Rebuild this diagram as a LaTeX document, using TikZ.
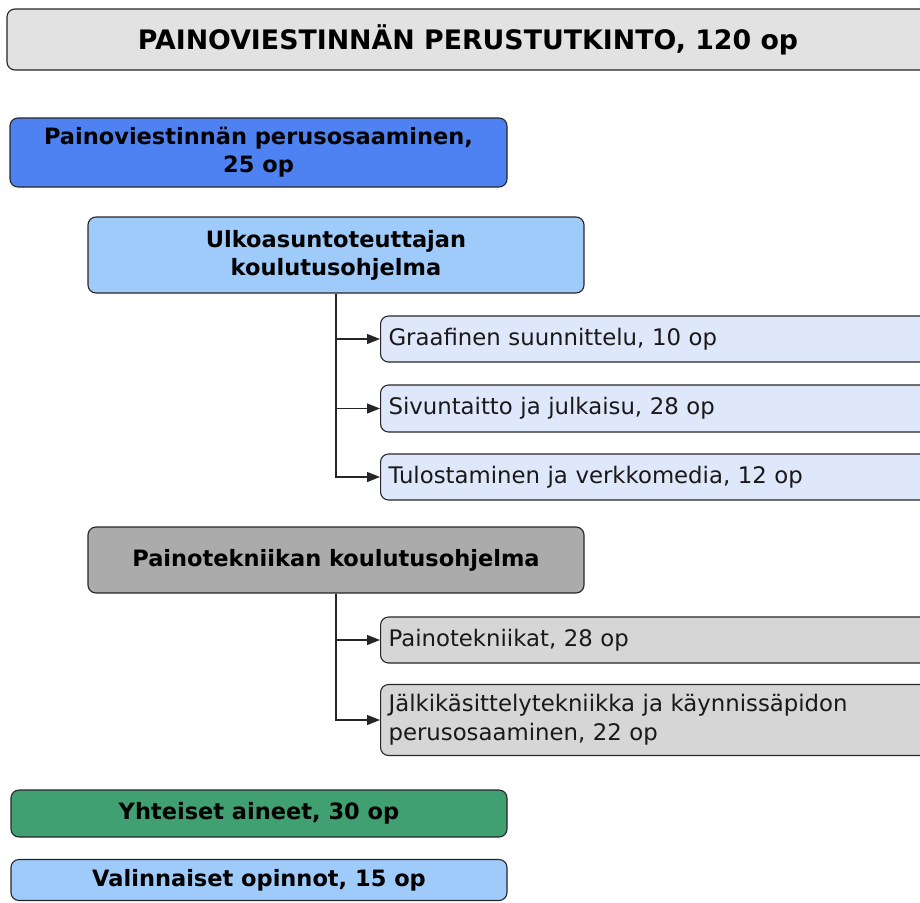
\documentclass[tikz,border=0pt]{standalone}
\usepackage{fontspec}
\setmainfont{DejaVu Sans}
\usetikzlibrary{positioning, arrows.meta}
\definecolor{titlegray}{HTML}{E2E2E2}
\definecolor{baseblue}{HTML}{4E82F2}
\definecolor{progblue}{HTML}{9FCBFA}
\definecolor{courseblue}{HTML}{DFE7FB}
\definecolor{proggray}{HTML}{ABABAB}
\definecolor{coursegray}{HTML}{D6D6D6}
\definecolor{commongreen}{HTML}{41A072}
\tikzset{box/.style={draw=black!85,line width=1.1pt,rounded corners=8pt,text=black},
         head/.style={box,font=\bfseries\fontsize{22.5}{28}\selectfont,align=center,inner sep=0pt,minimum width=496pt},
         course/.style={box,font=\fontsize{22.8}{29}\selectfont,text width=544pt,align=left,inner xsep=8pt,inner ysep=0pt,anchor=west,text=black!90},
         link/.style={-{Triangle[length=13pt,width=10pt]},line width=1.1pt,black!85},
        }

\begin{document}
\begin{tikzpicture}[x=1pt,y=-1pt]
        \clip (0,0) rectangle (920,902);
        \node[head,fill=titlegray,minimum width=922pt,minimum height=61pt,font=\bfseries\fontsize{26.8}{32}\selectfont](tutkinto)at(468,39.5){PAINOVIESTINNÄN PERUSTUTKINTO, 120 op};
        \node[head,fill=baseblue,minimum width=497pt,minimum height=69pt](perus)at(258.5,152.5){Painoviestinnän perusosaaminen,\\25 op};
        \node[head,fill=progblue,minimum height=76pt](ulko)at(336,255){Ulkoasuntoteuttajan\\koulutusohjelma};
        \node[head,fill=proggray,minimum height=66pt](paino)at(336,560){Painotekniikan koulutusohjelma};
        \node[head,fill=commongreen,minimum height=47pt](yht)at(259,813.5){Yhteiset aineet, 30 op};
        \node[head,fill=progblue,minimum height=41pt](val)at(259,880){Valinnaiset opinnot, 15 op};

        \node[course,fill=courseblue,minimum height=46pt](graaf)at(380,339){Graafinen suunnittelu, 10 op};
        \node[course,fill=courseblue,minimum height=47pt](sivu)at(380,408.5){Sivuntaitto ja julkaisu, 28 op};
        \node[course,fill=courseblue,minimum height=46pt](tulo)at(380,477){Tulostaminen ja verkkomedia, 12 op};
        \node[course,fill=coursegray,minimum height=46pt](tekn)at(380,640){Painotekniikat, 28 op};
        \node[course,fill=coursegray,minimum height=71pt](jalki)at(380,720){Jälkikäsittelytekniikka ja käynnissäpidon\\perusosaaminen, 22 op};

        \draw[link](ulko.south)|-(graaf.west);
        \draw[link](ulko.south)|-(sivu.west);
        \draw[link](ulko.south)|-(tulo.west);
        \draw[link](paino.south)|-(tekn.west);
        \draw[link](paino.south)|-(jalki.west);
    \end{tikzpicture}
\end{document}
